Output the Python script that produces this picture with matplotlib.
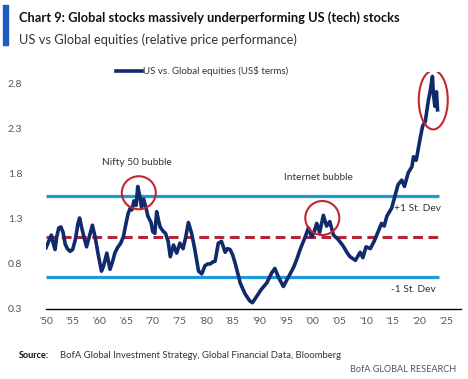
import matplotlib
matplotlib.use("Agg")
import matplotlib.pyplot as plt
from matplotlib.patches import Ellipse, Rectangle

plt.rcParams['font.family'] = ['Lato', 'DejaVu Sans']

years = [1950.0, 1950.5, 1951.0, 1951.4, 1951.7, 1952.0, 1952.4, 1952.8, 1953.2, 1953.6,
         1954.0, 1954.5, 1955.0, 1955.5, 1956.0, 1956.3, 1956.7, 1957.2, 1957.6, 1958.1,
         1958.7, 1959.2, 1959.8, 1960.4, 1960.8, 1961.4, 1962.0, 1962.5, 1962.9, 1963.4,
         1964.0, 1964.5, 1965.0, 1965.4, 1965.8, 1966.1, 1966.5, 1966.9, 1967.2, 1967.6,
         1967.9, 1968.3, 1968.8, 1969.1, 1969.7, 1970.0, 1970.4, 1970.75, 1971.1, 1971.4,
         1972.0, 1972.4, 1972.9, 1973.3, 1973.9, 1974.5, 1975.1, 1975.7, 1976.2, 1976.7,
         1977.3, 1977.9, 1978.6, 1979.2, 1979.8, 1980.3, 1980.8, 1981.2, 1981.7, 1982.3,
         1982.9, 1983.6, 1984.0, 1984.5, 1985.0, 1985.5, 1985.8, 1986.4, 1987.3, 1988.2,
         1988.7, 1989.5, 1990.4, 1991.4, 1992.3, 1992.9, 1993.6, 1994.5, 1995.4, 1996.4,
         1997.0, 1997.7, 1998.6, 1999.2, 1999.8, 2000.3, 2000.75, 2001.3, 2002.0, 2002.6,
         2003.2, 2003.9, 2004.8, 2005.7, 2006.5, 2007.0, 2008.0, 2008.9, 2009.4, 2010.0,
         2010.8, 2011.5, 2012.0, 2012.9, 2013.4, 2013.9, 2014.8, 2015.4, 2016.0, 2016.7,
         2017.2, 2017.9, 2018.6, 2018.9, 2019.4, 2020.1, 2020.6, 2021.1, 2021.7, 2022.0,
         2022.45, 2022.6, 2022.9, 2023.2, 2023.4]
values = [0.98, 1.05, 1.12, 1.02, 0.96, 1.10, 1.20, 1.21, 1.15, 1.02,
          0.97, 0.94, 0.96, 1.07, 1.25, 1.31, 1.20, 1.08, 0.99, 1.10,
          1.23, 1.10, 0.90, 0.72, 0.78, 0.92, 0.74, 0.83, 0.92, 0.98,
          1.03, 1.10, 1.25, 1.36, 1.42, 1.40, 1.50, 1.45, 1.66, 1.55,
          1.43, 1.52, 1.41, 1.33, 1.26, 1.16, 1.14, 1.38, 1.28, 1.21,
          1.16, 1.14, 1.05, 0.88, 1.01, 0.92, 1.03, 0.97, 1.10, 1.26,
          1.14, 0.96, 0.72, 0.69, 0.78, 0.80, 0.80, 0.82, 0.83, 1.03,
          1.05, 0.93, 0.97, 0.96, 0.90, 0.80, 0.73, 0.59, 0.47, 0.39,
          0.37, 0.44, 0.52, 0.59, 0.70, 0.75, 0.65, 0.55, 0.65, 0.76,
          0.85, 0.97, 1.10, 1.20, 1.10, 1.16, 1.25, 1.15, 1.34, 1.22,
          1.27, 1.12, 1.07, 1.00, 0.92, 0.88, 0.84, 0.93, 0.87, 0.99,
          0.97, 1.05, 1.12, 1.25, 1.22, 1.33, 1.42, 1.55, 1.68, 1.73,
          1.66, 1.81, 1.88, 1.99, 1.95, 2.18, 2.33, 2.38, 2.62, 2.71,
          2.88, 2.70, 2.55, 2.71, 2.51]

mean_level = 1.10
plus_sd = 1.55
minus_sd = 0.65
band_start, band_end = 1950.0, 2023.7

x_ticks = list(range(1950, 2030, 5))
x_labels = ["'50", "'55", "'60", "'65", "'70", "'75", "'80", "'85", "'90", "'95",
            "'00", "'05", "'10", "'15", "'20", "'25"]
y_ticks = [0.3, 0.8, 1.3, 1.8, 2.3, 2.8]
y_labels = ["0.3", "0.8", "1.3", "1.8", "2.3", "2.8"]

NAVY = "#102a6c"
LBLUE = "#1e9bd6"
RED = "#b3263a"
CIRC = "#c3262f"
GRAY = "#555555"

W, H = 468, 379
fig = plt.figure(figsize=(W / 100, H / 100), dpi=100)
ax = fig.add_axes([46 / W, 1 - 309 / H, (461 - 46) / W, (309 - 72) / H])
ax.set_xlim(1950, 2027.8)
ax.set_ylim(0.3, 2.93)

ax.hlines([plus_sd, minus_sd], band_start, band_end, colors=LBLUE, lw=2.3, zorder=2)
ax.hlines(mean_level, band_start, band_end, colors=RED, lw=2.2, linestyles=(0, (3.2, 1.8)), zorder=2)
ax.plot(years, values, color=NAVY, lw=2.6, zorder=3, solid_joinstyle='round',
        label="US vs. Global equities (US$ terms)")

# circles (pixel-sized ellipses converted to data units)
pxx = (2027.8 - 1950) / (461 - 46)
pxy = (2.93 - 0.3) / (309 - 72)
for (cx, cy, w, h) in [(1967.4, 1.59, 34, 33), (2001.8, 1.31, 34, 34), (2022.6, 2.62, 29, 59)]:
    ax.add_patch(Ellipse((cx, cy), w * pxx, h * pxy, fill=False, ec=CIRC, lw=1.5, zorder=4))

ax.text(1967.0, 1.93, "Nifty 50 bubble", ha='center', va='center', fontsize=7.3, color="#333333")
ax.text(2001.0, 1.76, "Internet bubble", ha='center', va='center', fontsize=7.3, color="#333333")
ax.text(2015.3, 1.41, "+1 St. Dev", ha='left', va='center', fontsize=7.3, color="#333333")
ax.text(2014.7, 0.52, "-1 St. Dev", ha='left', va='center', fontsize=7.3, color="#333333")

ax.set_xticks(x_ticks)
ax.set_xticklabels(x_labels)
ax.set_yticks(y_ticks)
ax.set_yticklabels(y_labels)
ax.tick_params(axis='both', length=0, labelsize=7.5, colors=GRAY)
ax.tick_params(axis='y', pad=17)
ax.tick_params(axis='x', pad=6)
for s in ['top', 'right', 'left']:
    ax.spines[s].set_visible(False)
ax.spines['bottom'].set_color('black')
ax.spines['bottom'].set_linewidth(1.0)

leg = ax.legend(loc='upper left', bbox_to_anchor=(0.16, 1.04), frameon=False, fontsize=7.0,
                handlelength=2.6, handletextpad=0.1, borderaxespad=0)
for t in leg.get_texts():
    t.set_color("#333333")

# title block
fig.patches.append(Rectangle((3 / W, 1 - 45 / H), 5 / W, 40 / H, transform=fig.transFigure,
                             color="#1d5cc0", zorder=5))
fig.text(19 / W, 1 - 18 / H, "Chart 9: Global stocks massively underperforming US (tech) stocks",
         fontsize=9.3, fontweight='bold', color="#111111", va='center', ha='left')
fig.text(19 / W, 1 - 40 / H, "US vs Global equities (relative price performance)",
         fontsize=9.3, color="#333333", va='center', ha='left')

fig.text(19 / W, 1 - 355 / H, "Source:", fontsize=6.6, fontweight='bold', color="#111111",
         va='center', ha='left')
fig.text(60 / W, 1 - 355 / H, "BofA Global Investment Strategy, Global Financial Data, Bloomberg",
         fontsize=6.8, color="#333333", va='center', ha='left')
fig.text(456 / W, 1 - 370 / H, "BofA GLOBAL RESEARCH", fontsize=6.6, color="#555555",
         va='center', ha='right')

fig.savefig("out.png", dpi=100)
